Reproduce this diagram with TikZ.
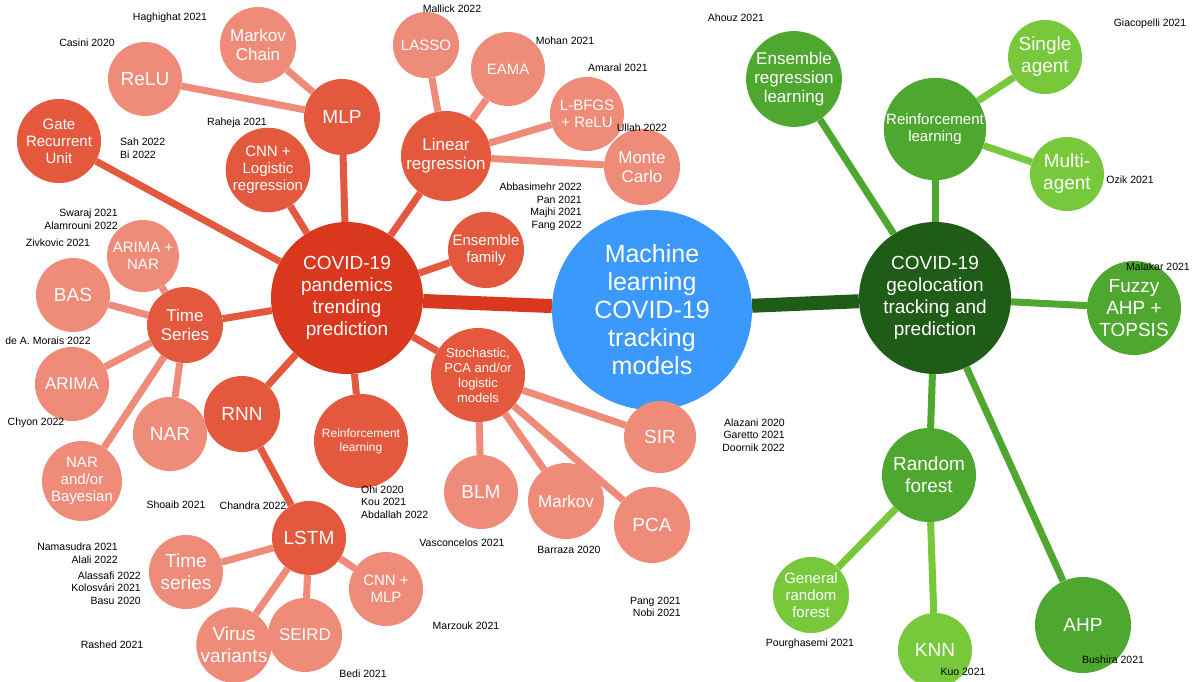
\documentclass[tikz,border=0pt]{standalone}
\usepackage{fontspec}
\setmainfont{Liberation Sans}
\definecolor{cblue}{HTML}{3B99FC}
\definecolor{rdark}{HTML}{D9381E}
\definecolor{rmid}{HTML}{E4583E}
\definecolor{rlight}{HTML}{EE8B79}
\definecolor{gdark}{HTML}{1F5C17}
\definecolor{gmid}{HTML}{4EA72E}
\definecolor{glight}{HTML}{78C83C}
\tikzset{
 circ/.style={circle,inner sep=0pt,text=white,align=center,font=\fontsize{15}{17}\selectfont},
 d/.style={minimum size=#1pt},
 big/.style={font=\fontsize{19}{22}\selectfont},
 sm/.style={font=\fontsize{12}{14}\selectfont},
 cite/.style={font=\fontsize{10.5}{12.5}\selectfont,inner sep=0pt},
 e/.style={line width=7pt,draw=#1},
}
\begin{document}
\begin{tikzpicture}[x=1pt,y=-1pt]
\useasboundingbox[fill=white] (0,0) rectangle (1200,682);
% main
\node[circ,fill=cblue,d=200,font=\fontsize{25}{28}\selectfont] (ml) at (652,310) {Machine\\learning\\COVID-19\\tracking\\models};
\node[circ,fill=rdark,d=152,big] (tr) at (347,298) {COVID-19\\pandemics\\trending\\prediction};
\node[circ,fill=gdark,d=152,big] (geo) at (935,298) {COVID-19\\geolocation\\tracking and\\prediction};
% red mid
\node[circ,fill=rmid,d=76,big] (mlp) at (342,117) {MLP};
\node[circ,fill=rmid,d=90,font=\fontsize{17}{19}\selectfont] (lin) at (446,156) {Linear\\regression};
\node[circ,fill=rmid,d=84] (gru) at (59,141) {Gate\\Recurrent\\Unit};
\node[circ,fill=rmid,d=76,font=\fontsize{17}{19}\selectfont] (ts) at (185,325) {Time\\Series};
\node[circ,fill=rmid,d=76,big] (rnn) at (242,414) {RNN};
\node[circ,fill=rmid,d=94,sm] (rl) at (361,441) {Reinforcement\\learning};
\node[circ,fill=rmid,d=94,font=\fontsize{13}{15}\selectfont] (sto) at (478,375) {Stochastic,\\PCA and/or\\logistic\\models};
\node[circ,fill=rmid,d=76] (ens) at (486,250) {Ensemble\\family};
\node[circ,fill=rmid,d=84] (cnn) at (268,170) {CNN +\\Logistic\\regression};
\node[circ,fill=rmid,d=74,big] (lstm) at (309,538) {LSTM};
% red light
\node[circ,fill=rlight,d=76,font=\fontsize{17}{19}\selectfont] (mc) at (258,45) {Markov\\Chain};
\node[circ,fill=rlight,d=74,big] (relu) at (145,79) {ReLU};
\node[circ,fill=rlight,d=66] (lasso) at (426,45) {LASSO};
\node[circ,fill=rlight,d=74] (eama) at (508,69) {EAMA};
\node[circ,fill=rlight,d=74] (lbfgs) at (587,114) {L-BFGS\\+ ReLU};
\node[circ,fill=rlight,d=76,font=\fontsize{17}{19}\selectfont] (monte) at (642,167) {Monte\\Carlo};
\node[circ,fill=rlight,d=72] (an) at (143,256) {ARIMA +\\NAR};
\node[circ,fill=rlight,d=74,big] (bas) at (73,295) {BAS};
\node[circ,fill=rlight,d=74,font=\fontsize{17}{19}\selectfont] (arima) at (72,384) {ARIMA};
\node[circ,fill=rlight,d=80] (nb) at (82,481) {NAR\\and/or\\Bayesian};
\node[circ,fill=rlight,d=74,big] (nar) at (170,434) {NAR};
\node[circ,fill=rlight,d=72,big] (sir) at (660,437) {SIR};
\node[circ,fill=rlight,d=76,big] (pca) at (652,525) {PCA};
\node[circ,fill=rlight,d=76,font=\fontsize{17}{19}\selectfont] (mk) at (566,501) {Markov};
\node[circ,fill=rlight,d=74,big] (blm) at (481,492) {BLM};
\node[circ,fill=rlight,d=74,big] (tsl) at (186,572) {Time\\series};
\node[circ,fill=rlight,d=74,big] (vv) at (234,645) {Virus\\variants};
\node[circ,fill=rlight,d=74,font=\fontsize{17}{19}\selectfont] (seird) at (305,635) {SEIRD};
\node[circ,fill=rlight,d=74] (cm) at (386,589) {CNN +\\MLP};
% green
\node[circ,fill=gmid,d=94,font=\fontsize{17}{19}\selectfont] (er) at (794,79) {Ensemble\\regression\\learning};
\node[circ,fill=gmid,d=94] (grl) at (935,129) {Reinforcement\\learning};
\node[circ,fill=glight,d=74,big] (sa) at (1045,57) {Single\\agent};
\node[circ,fill=glight,d=74,big] (ma) at (1067,174) {Multi-\\agent};
\node[circ,fill=gmid,d=94,big] (fz) at (1134,308) {Fuzzy\\AHP +\\TOPSIS};
\node[circ,fill=gmid,d=94,big] (rf) at (929,475) {Random\\forest};
\node[circ,fill=glight,d=76] (grf) at (811,595) {General\\random\\forest};
\node[circ,fill=glight,d=74,big] (knn) at (935,650) {KNN};
\node[circ,fill=gmid,d=96,big] (ahp) at (1083,625) {AHP};
% edges
\draw[line width=14pt,rdark] (tr) -- (ml);
\draw[line width=14pt,gdark] (ml) -- (geo);
\foreach \n in {mlp,lin,gru,ts,rnn,rl,sto,ens,cnn} \draw[e=rmid] (tr) -- (\n);
\draw[e=rmid] (rnn) -- (lstm);
\draw[e=rlight] (mlp) -- (mc); \draw[e=rlight] (mlp) -- (relu);
\foreach \n in {lasso,eama,lbfgs,monte} \draw[e=rlight] (lin) -- (\n);
\foreach \n in {an,bas,arima,nb,nar} \draw[e=rlight] (ts) -- (\n);
\foreach \n in {sir,pca,mk,blm} \draw[e=rlight] (sto) -- (\n);
\foreach \n in {tsl,vv,seird,cm} \draw[e=rlight] (lstm) -- (\n);
\foreach \n in {er,grl,fz,rf,ahp} \draw[e=gmid] (geo) -- (\n);
\draw[e=glight] (grl) -- (sa); \draw[e=glight] (grl) -- (ma);
\draw[e=glight] (rf) -- (grf); \draw[e=glight] (rf) -- (knn);
% citations
\node[cite] (c1) at (170,18) {Haghighat 2021};
\node[cite] (c2) at (87,43) {Casini 2020};
\node[cite] (c3) at (452,9) {Mallick 2022};
\node[cite] (c4) at (565,41) {Mohan 2021};
\node[cite] (c5) at (618,68) {Amaral 2021};
\node[cite] (c6) at (642,128) {Ullah 2022};
\node[cite] (c7) at (237,123) {Raheja 2021};
\node[cite,align=left,anchor=west] (c8) at (120,148) {Sah 2022\\Bi 2022};
\node[cite,align=right,anchor=east] (c9) at (118,219) {Swaraj 2021\\Alamrouni 2022};
\node[cite] (c10) at (58,243) {Zivkovic 2021};
\node[cite] (c11) at (48,341) {de A. Morais 2022};
\node[cite] (c12) at (36,423) {Chyon 2022};
\node[cite] (c13) at (176,505) {Shoaib 2021};
\node[cite,align=right,anchor=east] (c14) at (118,553) {Namasudra 2021\\Alali 2022};
\node[cite] (c15) at (253,506) {Chandra 2022};
\node[cite,align=left,anchor=west] (c16) at (361,502) {Ohi 2020\\Kou 2021\\Abdallah 2022};
\node[cite,align=right,anchor=east] (c17) at (582,207) {Abbasimehr 2022\\Pan 2021\\Majhi 2021\\Fang 2022};
\node[cite,align=right,anchor=east] (c18) at (785,435) {Alazani 2020\\Garetto 2021\\Doornik 2022};
\node[cite] (c19) at (462,543) {Vasconcelos 2021};
\node[cite] (c20) at (569,550) {Barraza 2020};
\node[cite,align=right,anchor=east] (c21) at (681,607) {Pang 2021\\Nobi 2021};
\node[cite,align=right,anchor=east] (c22) at (141,588) {Alassafi 2022\\Kolosvári 2021\\Basu 2020};
\node[cite] (c23) at (112,645) {Rashed 2021};
\node[cite] (c24) at (466,626) {Marzouk 2021};
\node[cite] (c25) at (363,674) {Bedi 2021};
\node[cite] (c26) at (736,18) {Ahouz 2021};
\node[cite] (c27) at (1150,24) {Giacopelli 2021};
\node[cite] (c28) at (1130,180) {Ozik 2021};
\node[cite] (c29) at (1158,267) {Malakar 2021};
\node[cite] (c30) at (810,644) {Pourghasemi 2021};
\node[cite] (c31) at (963,672) {Kuo 2021};
\node[cite] (c32) at (1113,660) {Bushira 2021};
\end{tikzpicture}
\end{document}
